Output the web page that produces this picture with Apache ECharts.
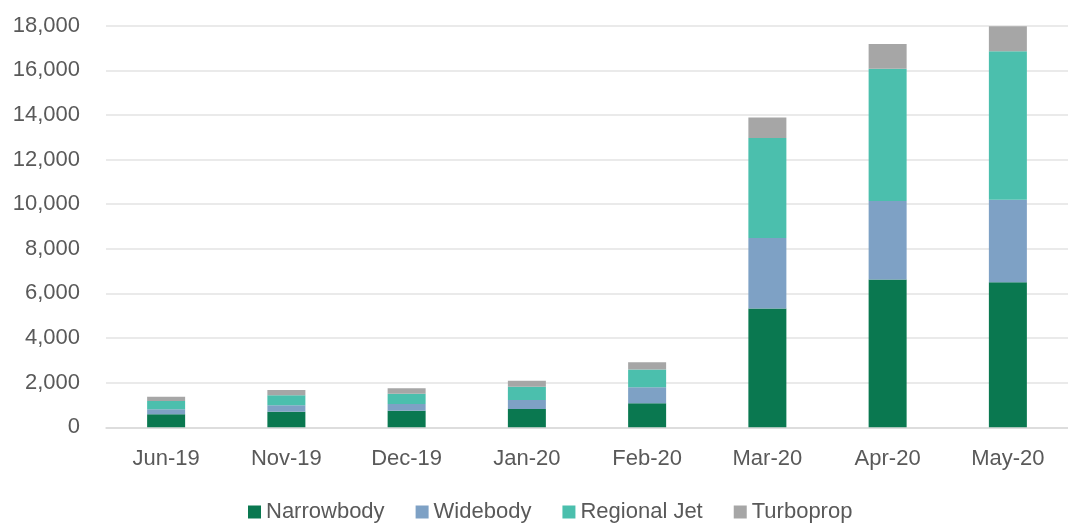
<!DOCTYPE html>
<html>
<head>
<meta charset="utf-8">
<script src="https://cdn.jsdelivr.net/npm/echarts@6/dist/echarts.min.js"></script>
<style>
  html, body { margin: 0; padding: 0; background: #ffffff; }
  #chart { width: 1068px; height: 523px; }
</style>
</head>
<body>
<div id="chart"></div>
<script>
// Monthly counts by aircraft type (stacked)
const months = ['Jun-19', 'Nov-19', 'Dec-19', 'Jan-20', 'Feb-20', 'Mar-20', 'Apr-20', 'May-20'];
const narrowbody = [580, 700, 745, 820, 1075, 5320, 6620, 6500];
const widebody   = [225, 285, 300, 400, 715, 3160, 3520, 3700];
const regionalJet = [370, 450, 460, 595, 805, 4490, 5925, 6650];
const turboprop  = [190, 235, 240, 270, 315, 920, 1120, 1120];

const seriesDefs = [
  { name: 'Narrowbody', data: narrowbody, color: '#0a7850' },
  { name: 'Widebody', data: widebody, color: '#7ea1c5' },
  { name: 'Regional Jet', data: regionalJet, color: '#4bbfad' },
  { name: 'Turboprop', data: turboprop, color: '#a6a6a6' }
];

const FONT = '"Liberation Sans", Arial, sans-serif';
const TEXT = '#595959';

const chart = echarts.init(document.getElementById('chart'), null, { renderer: 'canvas' });
chart.setOption({
  animation: false,
  backgroundColor: '#ffffff',
  grid: { left: 106, right: -4, top: 25.7, bottom: 95.7, containLabel: false },
  legend: {
    top: 496,
    left: 243,
    icon: 'rect',
    itemWidth: 13,
    itemHeight: 13,
    itemGap: 31,
    textStyle: { fontFamily: FONT, fontSize: 22, color: TEXT, padding: [0, 0, 0, 0] },
    data: seriesDefs.map(s => s.name)
  },
  xAxis: {
    type: 'category',
    data: months,
    axisLine: { show: true, lineStyle: { color: '#d9d9d9', width: 1.5 } },
    axisTick: { show: false },
    axisLabel: { fontFamily: FONT, fontSize: 22, color: TEXT, margin: 21 }
  },
  yAxis: {
    type: 'value',
    min: 0,
    max: 18000,
    interval: 2000,
    axisLine: { show: false },
    axisTick: { show: false },
    splitLine: { lineStyle: { color: '#e3e3e3', width: 1.5 } },
    axisLabel: {
      fontFamily: FONT, fontSize: 22, color: TEXT, margin: 26,
      formatter: v => v.toLocaleString('en-US')
    }
  },
  series: seriesDefs.map(s => ({
    name: s.name,
    type: 'bar',
    stack: 'total',
    data: s.data,
    barWidth: 38,
    itemStyle: { color: s.color },
    emphasis: { disabled: true }
  }))
});
</script>
</body>
</html>
